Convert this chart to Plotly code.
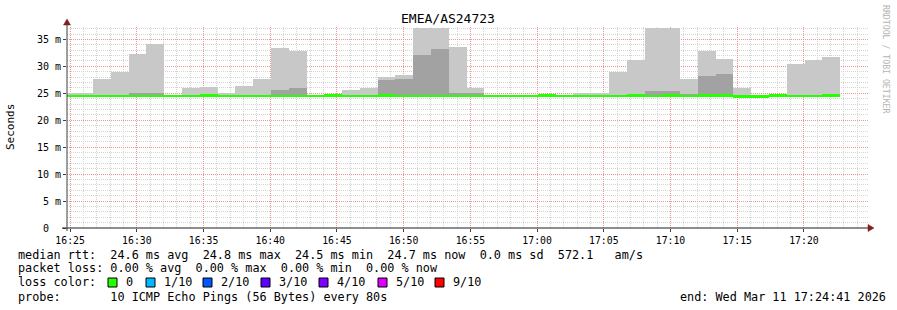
import plotly.graph_objects as go
import pandas as pd

# ---------------- data ----------------
first_start = "2026-03-11 16:24:03"
step_seconds = 80

smoke_min = [24.4, 24.4, 24.4, 24.4, 24.4, 24.4, 24.4, 24.4, 24.4, 24.4, 24.4,
             24.4, 24.4, 24.4, 24.4, 24.4, 24.4, 24.4, 24.4, 24.4, 24.4, 24.4,
             24.4, 24.4, 24.4, 24.4, 24.4, 24.4, 24.4, 24.4, 24.4, 24.4, 24.4,
             24.4, 24.4, 24.4, 24.4, 24.4, 24.4, 24.4, 24.4, 24.4, 24.4, 24.4]
smoke_max = [25.0, 25.0, 27.6, 29.0, 32.3, 34.1, 24.7, 26.0, 26.2, 25.05, 26.4,
             27.6, 33.4, 32.9, 24.7, 24.8, 25.6, 26.0, 28.1, 28.4, 37.1, 37.1,
             33.6, 25.9, 24.7, 24.7, 24.7, 24.8, 24.7, 25.05, 25.05, 28.9, 31.2,
             37.1, 37.1, 27.6, 32.9, 31.35, 26.0, 24.6, 24.8, 30.5, 31.2, 31.8]
smoke_dark = [None, None, None, None, 25.0, 25.0, None, None, None, None, None,
              None, 25.7, 25.9, None, None, None, None, 27.5, 27.6, 32.1, 33.2,
              25.1, 25.0, None, None, None, None, None, None, None, None, None,
              25.5, 25.5, 24.9, 28.2, 28.6, None, None, None, None, None, None]
median = [24.6, 24.6, 24.6, 24.6, 24.6, 24.6, 24.6, 24.6, 24.8, 24.6, 24.6,
          24.6, 24.6, 24.6, 24.6, 24.8, 24.6, 24.6, 24.8, 24.6, 24.6, 24.6,
          24.6, 24.6, 24.6, 24.6, 24.6, 24.8, 24.6, 24.6, 24.6, 24.6, 24.8,
          24.6, 24.8, 24.6, 24.8, 24.8, 24.5, 24.5, 24.8, 24.6, 24.6, 24.8]

y_tick_values = [0, 5, 10, 15, 20, 25, 30, 35]
y_tick_labels = ["0\u00a0\u00a0", "5 m", "10 m", "15 m", "20 m", "25 m", "30 m", "35 m"]

title_text = "EMEA/AS24723"
y_title = "Seconds"
watermark = "RRDTOOL / TOBI OETIKER"
line_rtt = "median rtt:  24.6 ms avg  24.8 ms max  24.5 ms min  24.7 ms now  0.0 ms sd  572.1   am/s"
line_loss = "packet loss: 0.00 % avg  0.00 % max  0.00 % min  0.00 % now"
line_color_label = "loss color:"
loss_labels = ["0", "1/10", "2/10", "3/10", "4/10", "5/10", "9/10"]
loss_colors = ["#26ff00", "#00b8ff", "#0059ff", "#5e00ff", "#7e00ff", "#dd00ff", "#ff0000"]
line_probe = "probe:       10 ICMP Echo Pings (56 Bytes) every 80s"
line_end = "end: Wed Mar 11 17:24:41 2026"

x_start = "2026-03-11 16:24:46"
x_end = "2026-03-11 17:24:48"

# ---------------- geometry helpers ----------------
W, H = 897, 310
ML, MR, MT, MB = 67, 29, 27, 82
PW, PH = W - ML - MR, H - MT - MB
FONT = "DejaVu Sans Mono"


def xp(px):
    return (px - ML) / PW


def yp(py):
    return (MT + PH - py) / PH


def nb(s):
    return s.replace(" ", "\u00a0")


times = [pd.Timestamp(first_start) + pd.Timedelta(seconds=step_seconds * i)
         for i in range(len(smoke_max))]
bar_w = step_seconds * 1000
green_bottom = 24.3

# grid positions (minor grid excludes the major positions)
x_major = list(pd.date_range("2026-03-11 16:25:00", "2026-03-11 17:20:00", freq="5min"))
x_minor = [t for t in pd.date_range("2026-03-11 16:25:00", "2026-03-11 17:24:00", freq="1min")
           if t.minute % 5 != 0]
y_minor = [v for v in range(1, 38) if v % 5 != 0]

fig = go.Figure()
fig.add_trace(go.Bar(
    x=times, base=smoke_min, y=[mx - mn for mx, mn in zip(smoke_max, smoke_min)],
    width=bar_w, offset=0, marker=dict(color="#c8c8c8", line=dict(width=0)),
    hoverinfo="skip"))
fig.add_trace(go.Bar(
    x=times, base=smoke_min,
    y=[(d - mn) if d is not None else 0 for d, mn in zip(smoke_dark, smoke_min)],
    width=bar_w, offset=0, marker=dict(color="#a2a2a2", line=dict(width=0)),
    hoverinfo="skip"))
fig.add_trace(go.Bar(
    x=times, base=green_bottom, y=[m + 0.15 - green_bottom for m in median],
    width=bar_w, offset=0, marker=dict(color="#26ff00", line=dict(width=0)),
    hoverinfo="skip"))

shapes = []
axis_col = "#1f1f1f"
# axis lines
shapes.append(dict(type="line", xref="paper", yref="paper", x0=xp(62), x1=xp(869),
                   y0=0, y1=0, line=dict(color=axis_col, width=1), layer="above"))
shapes.append(dict(type="line", xref="paper", yref="paper", x0=0, x1=0,
                   y0=yp(231), y1=yp(23), line=dict(color="#404040", width=1), layer="above"))
# arrows
arrow_col = "#801f1f"
shapes.append(dict(type="path", xref="paper", yref="paper",
                   path=f"M {xp(63.5)},{yp(25)} L {xp(67)},{yp(19)} L {xp(70.5)},{yp(25)} Z",
                   fillcolor=arrow_col, line=dict(color=arrow_col, width=0.5), layer="above"))
shapes.append(dict(type="path", xref="paper", yref="paper",
                   path=f"M {xp(868)},{yp(224.5)} L {xp(874)},{yp(228)} L {xp(868)},{yp(231.5)} Z",
                   fillcolor=arrow_col, line=dict(color=arrow_col, width=0.5), layer="above"))
# loss color boxes
box_x = [108, 146, 203, 261, 319, 378, 435]
for bx, col in zip(box_x, loss_colors):
    shapes.append(dict(type="rect", xref="paper", yref="paper",
                       x0=xp(bx), x1=xp(bx + 9), y0=yp(287), y1=yp(278),
                       fillcolor=col, line=dict(color="#000000", width=1)))

annotations = []
annotations.append(dict(text=title_text, xref="paper", yref="paper", x=xp(448), y=yp(19),
                        xanchor="center", yanchor="middle", showarrow=False,
                        font=dict(family=FONT, size=13, color="#000000")))
annotations.append(dict(text=y_title, xref="paper", yref="paper", x=xp(11), y=yp(127),
                        xanchor="center", yanchor="middle", showarrow=False, textangle=-90,
                        font=dict(family=FONT, size=11, color="#000000")))
annotations.append(dict(text=nb(watermark), xref="paper", yref="paper", x=xp(886), y=yp(59),
                        xanchor="center", yanchor="middle", showarrow=False, textangle=90,
                        font=dict(family=FONT, size=8.2, color="#b4b4b4")))
for txt, py in [(line_rtt, 254.5), (line_loss, 268), (line_color_label, 282), (line_probe, 296.5)]:
    annotations.append(dict(text=nb(txt), xref="paper", yref="paper", x=xp(16), y=yp(py),
                            xanchor="left", yanchor="middle", showarrow=False,
                            font=dict(family=FONT, size=11.8, color="#000000")))
annotations.append(dict(text=nb(line_end), xref="paper", yref="paper", x=xp(678), y=yp(296.5),
                        xanchor="left", yanchor="middle", showarrow=False,
                        font=dict(family=FONT, size=11.8, color="#000000")))
for bx, lab in zip(box_x, loss_labels):
    annotations.append(dict(text=lab, xref="paper", yref="paper", x=xp(bx + 16), y=yp(282),
                            xanchor="left", yanchor="middle", showarrow=False,
                            font=dict(family=FONT, size=11.8, color="#000000")))

major_red = "#eb9595"
minor_gray = "#d4d4d4"
fig.update_layout(
    width=W, height=H, margin=dict(l=ML, r=MR, t=MT, b=MB),
    paper_bgcolor="#ffffff", plot_bgcolor="#ffffff",
    barmode="overlay", bargap=0, showlegend=False, hovermode=False,
    shapes=shapes, annotations=annotations,
    xaxis=dict(type="date", range=[x_start, x_end], tickmode="array", tickvals=x_major,
               tickformat="%H:%M", showgrid=True, gridcolor=major_red,
               griddash="1px,1px", gridwidth=1, zeroline=False,
               showline=False, ticks="outside", ticklen=3, tickcolor="#404040",
               tickfont=dict(family=FONT, size=9.8, color="#000000"),
               minor=dict(tickmode="array", tickvals=x_minor, showgrid=True,
                          gridcolor=minor_gray, griddash="1px,1px", gridwidth=1)),
    yaxis=dict(range=[0, 37.3], tickvals=y_tick_values, ticktext=y_tick_labels,
               showgrid=True, gridcolor=major_red, griddash="1px,1px", gridwidth=1,
               zeroline=False, showline=False, ticks="outside",
               ticklen=3, tickcolor="#404040",
               tickfont=dict(family=FONT, size=10, color="#000000"),
               minor=dict(tickmode="array", tickvals=y_minor, showgrid=True,
                          gridcolor=minor_gray, griddash="1px,1px", gridwidth=1)),
    font=dict(family=FONT),
)

fig.write_html("out.html")
